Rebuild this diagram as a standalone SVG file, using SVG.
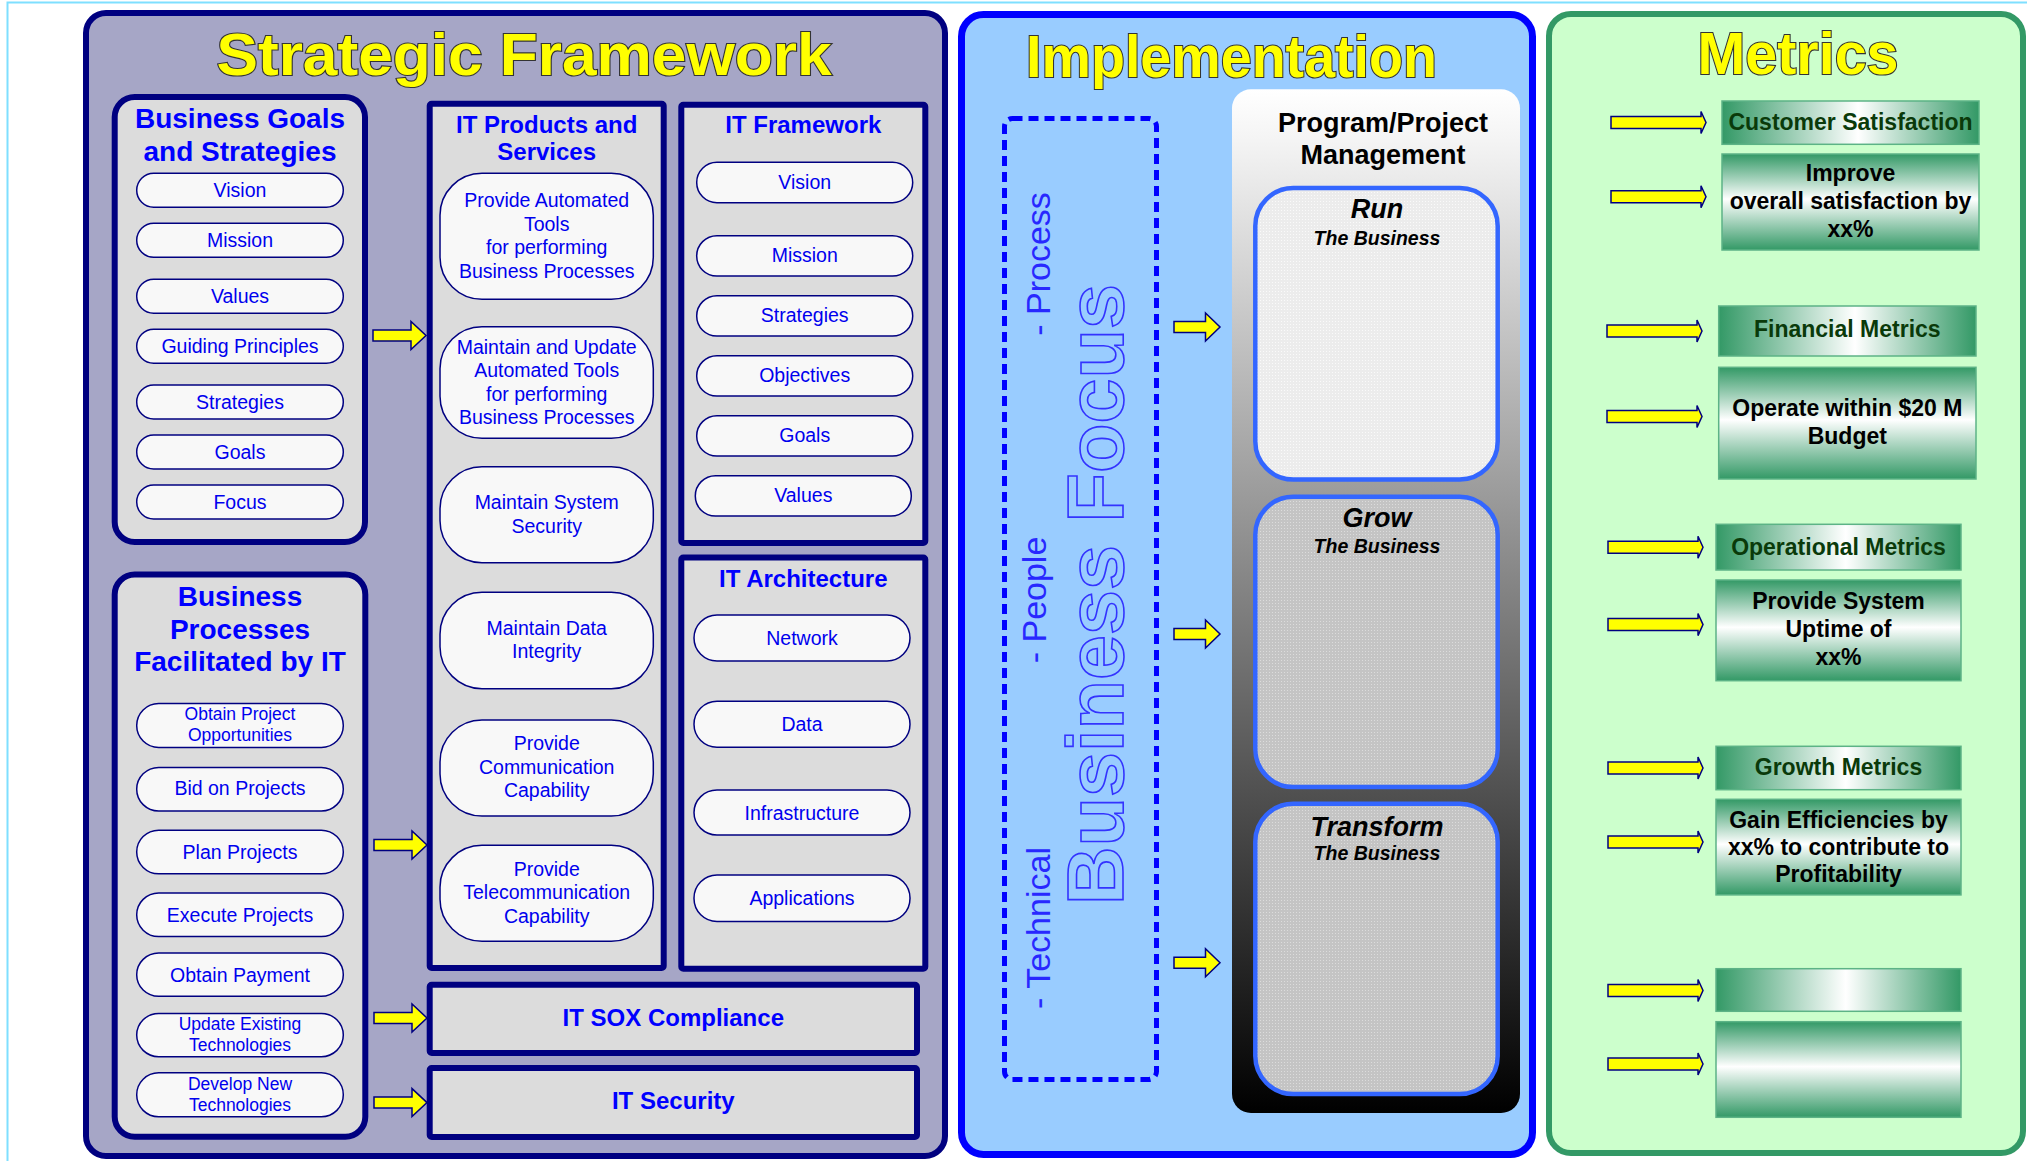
<svg xmlns="http://www.w3.org/2000/svg" xmlns:xlink="http://www.w3.org/1999/xlink" width="2027" height="1161" viewBox="0 0 2027 1161">
  <style>
    text { font-family: "Liberation Sans", Arial, sans-serif; }
    .title { font-size: 59px; font-weight: bold; fill: #FFFF00; stroke: #333333; stroke-width: 2.2; paint-order: stroke; text-anchor: middle; }
    .panel-sf { fill: #A6A6C6; stroke: #000080; stroke-width: 6; }
    .panel-im { fill: #99CCFF; stroke: #0000FF; stroke-width: 7; }
    .panel-me { fill: #CCFFCC; stroke: #339966; stroke-width: 6; }
    .box { fill: #DCDCDC; stroke: #000080; stroke-width: 6; }
    .pill { fill: #F8F8F8; stroke: #000080; stroke-width: 1.5; }
    .ht { font-weight: bold; fill: #0000FF; text-anchor: middle; }
    .h28 { font-size: 28px; }
    .h24 { font-size: 24px; }
    .pt { font-size: 19.5px; fill: #0000EE; text-anchor: middle; }
    .pts { font-size: 17.5px; fill: #0000EE; text-anchor: middle; }
    .arrow { fill: #FFFF00; stroke: #000080; stroke-width: 1.5; stroke-linejoin: miter; }
    .side { font-size: 34px; fill: #2828FF; text-anchor: middle; }
    .focus { font-size: 79px; font-weight: bold; fill: #99CCFF; stroke: #3333FF; stroke-width: 1.6; text-anchor: middle; }
    .pm { font-size: 27px; font-weight: bold; fill: #000000; text-anchor: middle; }
    .tile { stroke: #3366FF; stroke-width: 4.5; }
    .tt { font-size: 27px; font-weight: bold; font-style: italic; fill: #000000; text-anchor: middle; }
    .ts { font-size: 19.5px; font-weight: bold; font-style: italic; fill: #000000; text-anchor: middle; }
    .bar { fill: url(#barH); stroke: #5CB386; stroke-width: 1.5; }
    .mbox { fill: url(#boxV); stroke: #5CB386; stroke-width: 1.5; }
    .bt { font-size: 23px; font-weight: bold; fill: #0A3A0A; text-anchor: middle; }
    .mt { font-size: 23px; font-weight: bold; fill: #000000; text-anchor: middle; }
  </style>
  <defs>
    <linearGradient id="ppmGrad" x1="0" y1="0" x2="0" y2="1">
      <stop offset="0" stop-color="#FFFFFF"/>
      <stop offset="0.05" stop-color="#F4F4F4"/>
      <stop offset="1" stop-color="#000000"/>
    </linearGradient>
    <linearGradient id="barH" x1="0" y1="0" x2="1" y2="0">
      <stop offset="0" stop-color="#339966"/>
      <stop offset="0.53" stop-color="#FFFFFF"/>
      <stop offset="1" stop-color="#339966"/>
    </linearGradient>
    <linearGradient id="boxV" x1="0" y1="0" x2="0" y2="1">
      <stop offset="0" stop-color="#339966"/>
      <stop offset="0.47" stop-color="#FFFFFF"/>
      <stop offset="1" stop-color="#339966"/>
    </linearGradient>
    <pattern id="texLight" width="3" height="3" patternUnits="userSpaceOnUse">
      <rect width="3" height="3" fill="#ECECEC"/>
      <rect width="1" height="1" fill="#FAFAFA"/>
    </pattern>
    <pattern id="texGray" width="3" height="3" patternUnits="userSpaceOnUse">
      <rect width="3" height="3" fill="#C4C4C4"/>
      <rect width="1" height="1" fill="#DCDCDC"/>
    </pattern>
    <path id="arrowS" class="arrow" d="M0,-5.5 H38 V-14 L53,0 L38,14 V5.5 H0 Z"/>
    <path id="arrowI" class="arrow" d="M0,-5.5 H31.5 V-14 L46,0 L31.5,14 V5.5 H0 Z"/>
    <path id="arrowM" class="arrow" d="M0,-6 H90 V-11 L95,0 L90,11 V6 H0 Z"/>
  </defs>

  <!-- page frame -->
  <rect width="2027" height="1161" fill="#FFFFFF"/>
  <path d="M7.5,1161 V2.5 H2027" fill="none" stroke="#7FDFFF" stroke-width="2"/>

  <!-- ===== Strategic Framework panel ===== -->
  <g id="strategic-framework">
    <rect class="panel-sf" x="86" y="13" width="859" height="1143" rx="20"/>
    <text class="title" x="524" y="75" textLength="615" lengthAdjust="spacingAndGlyphs">Strategic Framework</text>
  </g>

  <g id="business-goals">
    <rect class="box" x="114.7" y="97" width="250.3" height="445" rx="20"/>
    <text class="ht h28" x="240" y="128">Business Goals</text>
    <text class="ht h28" x="240" y="161">and Strategies</text>
    <rect class="pill" x="136.7" y="173.3" width="206.6" height="34" rx="17"/>
    <text class="pt" x="240" y="197">Vision</text>
    <rect class="pill" x="136.7" y="223.3" width="206.6" height="34" rx="17"/>
    <text class="pt" x="240" y="247">Mission</text>
    <rect class="pill" x="136.7" y="279.3" width="206.6" height="34" rx="17"/>
    <text class="pt" x="240" y="303">Values</text>
    <rect class="pill" x="136.7" y="329.3" width="206.6" height="34" rx="17"/>
    <text class="pt" x="240" y="353">Guiding Principles</text>
    <rect class="pill" x="136.7" y="385" width="206.6" height="34" rx="17"/>
    <text class="pt" x="240" y="409">Strategies</text>
    <rect class="pill" x="136.7" y="435" width="206.6" height="34" rx="17"/>
    <text class="pt" x="240" y="459">Goals</text>
    <rect class="pill" x="136.7" y="485" width="206.6" height="34" rx="17"/>
    <text class="pt" x="240" y="509">Focus</text>
  </g>

  <g id="business-processes">
    <rect class="box" x="114.7" y="574.5" width="250.6" height="562.3" rx="20"/>
    <text class="ht h28" x="240" y="606">Business</text>
    <text class="ht h28" x="240" y="638.5">Processes</text>
    <text class="ht h28" x="240" y="671">Facilitated by IT</text>
    <rect class="pill" x="136.7" y="703.5" width="206.6" height="44" rx="22"/>
    <text class="pts" x="240" y="720">Obtain Project</text>
    <text class="pts" x="240" y="740.6">Opportunities</text>
    <rect class="pill" x="136.7" y="767.4" width="206.6" height="43.6" rx="22"/>
    <text class="pt" x="240" y="795.4">Bid on Projects</text>
    <rect class="pill" x="136.7" y="830.2" width="206.6" height="43.6" rx="22"/>
    <text class="pt" x="240" y="858.5">Plan Projects</text>
    <rect class="pill" x="136.7" y="893" width="206.6" height="43.6" rx="22"/>
    <text class="pt" x="240" y="921.6">Execute Projects</text>
    <rect class="pill" x="136.7" y="953" width="206.6" height="43.3" rx="22"/>
    <text class="pt" x="240" y="981.7">Obtain Payment</text>
    <rect class="pill" x="136.7" y="1013.5" width="206.6" height="43.2" rx="22"/>
    <text class="pts" x="240" y="1030">Update Existing</text>
    <text class="pts" x="240" y="1051">Technologies</text>
    <rect class="pill" x="136.7" y="1072.8" width="206.6" height="44" rx="22"/>
    <text class="pts" x="240" y="1090">Develop New</text>
    <text class="pts" x="240" y="1111">Technologies</text>
  </g>

  <g id="it-products-services">
    <rect class="box" x="429.7" y="103.7" width="234" height="864.3" rx="2"/>
    <text class="ht h24" x="546.7" y="132.7">IT Products and</text>
    <text class="ht h24" x="546.7" y="160">Services</text>
    <rect class="pill" x="440" y="173.3" width="213.3" height="126" rx="42"/>
    <text class="pt" x="546.7" y="207.3">Provide Automated</text>
    <text class="pt" x="546.7" y="230.7">Tools</text>
    <text class="pt" x="546.7" y="254.4">for performing</text>
    <text class="pt" x="546.7" y="277.5">Business Processes</text>
    <rect class="pill" x="440" y="326.7" width="213.3" height="111.6" rx="42"/>
    <text class="pt" x="546.7" y="354.3">Maintain and Update</text>
    <text class="pt" x="546.7" y="377.3">Automated Tools</text>
    <text class="pt" x="546.7" y="400.7">for performing</text>
    <text class="pt" x="546.7" y="424">Business Processes</text>
    <rect class="pill" x="440" y="466.7" width="213.3" height="96" rx="42"/>
    <text class="pt" x="546.7" y="509.3">Maintain System</text>
    <text class="pt" x="546.7" y="532.7">Security</text>
    <rect class="pill" x="440" y="592.2" width="213.3" height="96.5" rx="42"/>
    <text class="pt" x="546.7" y="634.9">Maintain Data</text>
    <text class="pt" x="546.7" y="657.8">Integrity</text>
    <rect class="pill" x="440" y="720" width="213.3" height="96" rx="42"/>
    <text class="pt" x="546.7" y="749.6">Provide</text>
    <text class="pt" x="546.7" y="773.5">Communication</text>
    <text class="pt" x="546.7" y="797">Capability</text>
    <rect class="pill" x="440" y="845.3" width="213.3" height="96" rx="42"/>
    <text class="pt" x="546.7" y="876">Provide</text>
    <text class="pt" x="546.7" y="899.3">Telecommunication</text>
    <text class="pt" x="546.7" y="922.7">Capability</text>
  </g>

  <g id="it-framework">
    <rect class="box" x="681.3" y="104.7" width="244" height="438.3" rx="2"/>
    <text class="ht h24" x="803.3" y="133.3">IT Framework</text>
    <rect class="pill" x="696.7" y="162.3" width="216" height="40.4" rx="20.2"/>
    <text class="pt" x="804.7" y="189">Vision</text>
    <rect class="pill" x="696.7" y="235.7" width="216" height="40.4" rx="20.2"/>
    <text class="pt" x="804.7" y="262.4">Mission</text>
    <rect class="pill" x="696.7" y="295.7" width="216" height="40.4" rx="20.2"/>
    <text class="pt" x="804.7" y="322.4">Strategies</text>
    <rect class="pill" x="696.7" y="355.7" width="216" height="40.4" rx="20.2"/>
    <text class="pt" x="804.7" y="382.4">Objectives</text>
    <rect class="pill" x="696.7" y="415.7" width="216" height="40.4" rx="20.2"/>
    <text class="pt" x="804.7" y="442.4">Goals</text>
    <rect class="pill" x="695.3" y="475.7" width="216" height="40.4" rx="20.2"/>
    <text class="pt" x="803.3" y="502.4">Values</text>
  </g>

  <g id="it-architecture">
    <rect class="box" x="681.3" y="557.6" width="244" height="411.2" rx="2"/>
    <text class="ht h24" x="803.3" y="586.7">IT Architecture</text>
    <rect class="pill" x="694" y="615" width="216" height="46" rx="23"/>
    <text class="pt" x="802" y="644.8">Network</text>
    <rect class="pill" x="694" y="701.3" width="216" height="46" rx="23"/>
    <text class="pt" x="802" y="731">Data</text>
    <rect class="pill" x="694" y="790" width="216" height="45" rx="23"/>
    <text class="pt" x="802" y="819.5">Infrastructure</text>
    <rect class="pill" x="694" y="875" width="216" height="46.5" rx="23"/>
    <text class="pt" x="802" y="905">Applications</text>
  </g>

  <g id="it-sox-compliance">
    <rect class="box" x="429.7" y="984.7" width="487.3" height="68.3" rx="2"/>
    <text class="ht h24" x="673.3" y="1026.3">IT SOX Compliance</text>
  </g>

  <g id="it-security">
    <rect class="box" x="429.7" y="1068" width="487.3" height="69" rx="2"/>
    <text class="ht h24" x="673.3" y="1109.4">IT Security</text>
  </g>

  <!-- ===== Implementation panel ===== -->
  <g id="implementation">
    <rect class="panel-im" x="961.5" y="14.5" width="571" height="1140" rx="22"/>
    <text class="title" x="1231.5" y="77" textLength="411" lengthAdjust="spacingAndGlyphs">Implementation</text>
  </g>

  <g id="business-focus">
    <rect x="1004.5" y="118.5" width="152" height="961" rx="8" fill="none" stroke="#0000FF" stroke-width="5" stroke-dasharray="10 6"/>
    <text class="side" transform="translate(1050,264) rotate(-90)">- Process</text>
    <text class="side" transform="translate(1046,600) rotate(-90)">- People</text>
    <text class="side" transform="translate(1050,928) rotate(-90)">- Technical</text>
    <text class="focus" transform="translate(1123,594.5) rotate(-90)" textLength="621" lengthAdjust="spacingAndGlyphs">Business Focus</text>
  </g>

  <g id="program-project-management">
    <rect x="1232" y="89.3" width="288" height="1023.7" rx="19" fill="url(#ppmGrad)"/>
    <text class="pm" x="1383" y="131.7">Program/Project</text>
    <text class="pm" x="1383" y="164.3">Management</text>
  </g>

  <g id="run-the-business">
    <rect class="tile" x="1255.3" y="188" width="242.4" height="291.5" rx="38" fill="url(#texLight)"/>
    <text class="tt" x="1377" y="218.3">Run</text>
    <text class="ts" x="1377" y="245">The Business</text>
  </g>

  <g id="grow-the-business">
    <rect class="tile" x="1255.3" y="496.7" width="242.4" height="290.3" rx="38" fill="url(#texGray)"/>
    <text class="tt" x="1377" y="527">Grow</text>
    <text class="ts" x="1377" y="553.4">The Business</text>
  </g>

  <g id="transform-the-business">
    <rect class="tile" x="1255.3" y="803.8" width="242.4" height="290.3" rx="38" fill="url(#texGray)"/>
    <text class="tt" x="1377" y="835.5">Transform</text>
    <text class="ts" x="1377" y="859.5">The Business</text>
  </g>

  <!-- ===== Metrics panel ===== -->
  <g id="metrics">
    <rect class="panel-me" x="1549" y="14" width="474" height="1139" rx="22"/>
    <text class="title" x="1798" y="74" textLength="201" lengthAdjust="spacingAndGlyphs">Metrics</text>
  </g>

  <g id="customer-satisfaction">
    <rect class="bar" x="1722" y="101" width="257" height="43.3"/>
    <text class="bt" x="1850.5" y="130">Customer Satisfaction</text>
    <rect class="mbox" x="1722" y="154" width="257" height="96"/>
    <text class="mt" x="1850.5" y="181">Improve</text>
    <text class="mt" x="1850.5" y="209.3">overall satisfaction by</text>
    <text class="mt" x="1850.5" y="236.7">xx%</text>
  </g>

  <g id="financial-metrics">
    <rect class="bar" x="1718.7" y="306" width="257.3" height="50"/>
    <text class="bt" x="1847.3" y="337.3">Financial Metrics</text>
    <rect class="mbox" x="1718.7" y="367.3" width="257.3" height="111.7"/>
    <text class="mt" x="1847.3" y="416">Operate within $20 M</text>
    <text class="mt" x="1847.3" y="444.3">Budget</text>
  </g>

  <g id="operational-metrics">
    <rect class="bar" x="1716" y="524.3" width="245" height="45.7"/>
    <text class="bt" x="1838.5" y="554.7">Operational Metrics</text>
    <rect class="mbox" x="1716" y="580" width="245" height="100.7"/>
    <text class="mt" x="1838.5" y="609">Provide System</text>
    <text class="mt" x="1838.5" y="637.3">Uptime of</text>
    <text class="mt" x="1838.5" y="664.6">xx%</text>
  </g>

  <g id="growth-metrics">
    <rect class="bar" x="1716" y="746.3" width="245" height="43.4"/>
    <text class="bt" x="1838.5" y="775.4">Growth Metrics</text>
    <rect class="mbox" x="1716" y="799.3" width="245" height="95.6"/>
    <text class="mt" x="1838.5" y="827.5">Gain Efficiencies by</text>
    <text class="mt" x="1838.5" y="854.5">xx% to contribute to</text>
    <text class="mt" x="1838.5" y="881.8">Profitability</text>
  </g>

  <g id="blank-metric">
    <rect class="bar" x="1716" y="968.7" width="245" height="42.6"/>
    <rect class="mbox" x="1716" y="1021.7" width="245" height="95.6"/>
  </g>

  <!-- ===== Connectors ===== -->
  <g id="connectors">
    <use xlink:href="#arrowS" x="373" y="335.5"/>
    <use xlink:href="#arrowS" x="374" y="845"/>
    <use xlink:href="#arrowS" x="374" y="1018"/>
    <use xlink:href="#arrowS" x="374" y="1102.6"/>
    <use xlink:href="#arrowI" x="1174" y="327"/>
    <use xlink:href="#arrowI" x="1174" y="634"/>
    <use xlink:href="#arrowI" x="1174" y="962.7"/>
    <use xlink:href="#arrowM" x="1611" y="122.5"/>
    <use xlink:href="#arrowM" x="1611" y="196.8"/>
    <use xlink:href="#arrowM" x="1607" y="331"/>
    <use xlink:href="#arrowM" x="1607" y="416.5"/>
    <use xlink:href="#arrowM" x="1608" y="547.3"/>
    <use xlink:href="#arrowM" x="1608" y="624.6"/>
    <use xlink:href="#arrowM" x="1608" y="768"/>
    <use xlink:href="#arrowM" x="1608" y="842"/>
    <use xlink:href="#arrowM" x="1608" y="990.5"/>
    <use xlink:href="#arrowM" x="1608" y="1064"/>
  </g>
</svg>
